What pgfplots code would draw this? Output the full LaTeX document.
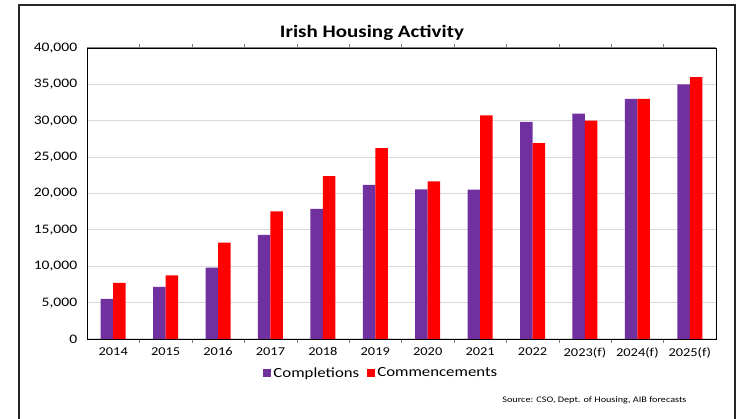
\documentclass[border=0pt]{standalone}
\usepackage{fontspec}
\setmainfont{Carlito}[FakeStretch=1.2]
\usepackage{pgfplots}
\pgfplotsset{compat=1.18}
\definecolor{compl}{HTML}{7030A0}
\definecolor{comm}{HTML}{FF0000}
\definecolor{gridgray}{HTML}{D9D9D9}

\begin{document}
\begin{tikzpicture}[x=1pt,y=1pt]
\useasboundingbox (0,0) rectangle (736,419);
\begin{axis}[
  at={(87pt,80pt)}, anchor=south west,
  scale only axis, width=629pt, height=291pt,
  ybar=0pt, bar width=12.5pt,
  xmin=-0.5, xmax=11.5, ymin=0, ymax=40000,
  xtick={0,...,11},
  xticklabels={2014,2015,2016,2017,2018,2019,2020,2021,2022,2023(f),2024(f),2025(f)},
  minor x tick num=1,
  major x tick style={draw=none},
  minor tick length=4pt,
  tick align=outside,
  x tick label style={font=\fontsize{12}{12}\selectfont, yshift=-1pt},
  ytick={0,5000,...,40000},
  major y tick style={draw=none},
  y tick label style={font=\fontsize{13}{13}\selectfont, xshift=-2pt},
  scaled y ticks=false,
  /pgf/number format/.cd, 1000 sep={,}, assume math mode=true, /pgfplots/.cd,
  ymajorgrids, grid style={gridgray, line width=1.2pt},
  axis line style={black, line width=0.9pt},
  legend style={at={(0.468,-0.117)}, anchor=center, draw=none, fill=none,
    font=\fontsize{14}{14}\selectfont, legend columns=2,
    /tikz/every even column/.append style={column sep=6pt}},
  legend image code/.code={\fill[#1] (0pt,-4pt) rectangle (8pt,4pt);},
]
\addplot[fill=compl, draw=none] coordinates {
(0,5500) (1,7150) (2,9800) (3,14300) (4,17870) (5,21170)
(6,20570) (7,20520) (8,29830) (9,30970) (10,33000) (11,35000)};
\addplot[fill=comm, draw=none] coordinates {
(0,7700) (1,8750) (2,13240) (3,17550) (4,22400) (5,26250)
(6,21680) (7,30750) (8,26940) (9,30000) (10,33000) (11,36000)};
\legend{Completions,Commencements}
\draw[gray, line width=1pt] (rel axis cs:0,1) -- (rel axis cs:1,1);
\end{axis}
\node[font=\bfseries\fontsize{17.5}{17.5}\selectfont] at (372,386) {Irish Housing Activity};
\node[anchor=east, font=\fontsize{8.5}{8.5}\selectfont] at (690,19) {Source: CSO, Dept. of Housing, AIB forecasts};
\draw[line width=1.8pt, black!85] (19,-5) -- (19,414) -- (735,414) -- (735,-5);
\end{tikzpicture}
\end{document}
